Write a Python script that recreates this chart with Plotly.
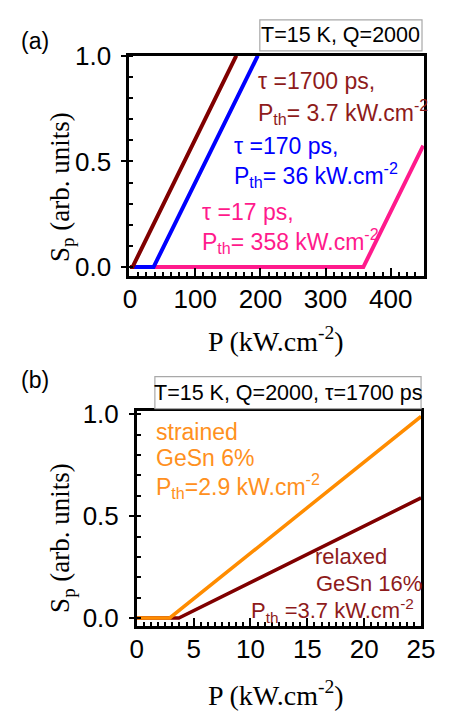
import plotly.graph_objects as go

W, H = 457, 719

# ---- panel (a): S_p vs pump power for three carrier lifetimes ----
p_tau1700 = [0, 3.7, 163]
s_tau1700 = [0, 0, 1.0]
p_tau170 = [0, 36, 196]
s_tau170 = [0, 0, 1.0]
p_tau17 = [0, 358, 450]
s_tau17 = [0, 0, 0.575]

# ---- panel (b): strained vs relaxed GeSn at tau = 1700 ps ----
p_strained = [0, 2.9, 25]
s_strained = [0, 0, 0.99]
p_relaxed = [0, 3.7, 25]
s_relaxed = [0, 0, 0.59]

DARKRED = "#800000"
DARKRED_TXT = "#8E1B1B"
BLUE = "#0000FF"
PINK = "#FF1A8C"
ORANGE = "#FF8C00"
ORANGE_TXT = "#FF9020"

SANS = "Liberation Sans"
SERIF = "Liberation Serif"


def px(x):
    return x / W


def py(y):
    return 1 - y / H


fig = go.Figure()

# panel (a) traces
fig.add_trace(go.Scatter(x=p_tau17, y=s_tau17, mode="lines",
                         line=dict(color=PINK, width=4), xaxis="x", yaxis="y"))
fig.add_trace(go.Scatter(x=p_tau170, y=s_tau170, mode="lines",
                         line=dict(color=BLUE, width=4), xaxis="x", yaxis="y"))
fig.add_trace(go.Scatter(x=p_tau1700, y=s_tau1700, mode="lines",
                         line=dict(color=DARKRED, width=4), xaxis="x", yaxis="y"))

# panel (b) traces
fig.add_trace(go.Scatter(x=p_relaxed, y=s_relaxed, mode="lines",
                         line=dict(color=DARKRED, width=3.5), xaxis="x2", yaxis="y2"))
fig.add_trace(go.Scatter(x=p_strained, y=s_strained, mode="lines",
                         line=dict(color=ORANGE, width=3.5), xaxis="x2", yaxis="y2"))

dom_xa = [px(128), px(437)]
dom_ya = [py(269), py(42)]
dom_xb = [px(136), px(434)]
dom_yb = [py(630), py(408)]

range_xa = [-1.5, 451]
range_ya = [-0.041, 1.0]
range_xb = [0, 25]
range_yb = [-0.038, 1.019]

tickfont = dict(family=SANS, size=26, color="black")


def xaxis_style(domain, rng, dtick, minor_dtick, anchor):
    return dict(domain=domain, range=rng, anchor=anchor, showgrid=False, zeroline=False,
                showline=True, mirror=True, linecolor="black", linewidth=2.5,
                ticks="inside", ticklen=8, tickwidth=2, tickcolor="black", dtick=dtick,
                tick0=0, tickfont=tickfont, ticklabelstandoff=-2,
                minor=dict(ticks="inside", ticklen=4, tickwidth=1.5, tickcolor="black",
                           dtick=minor_dtick, tick0=0, showgrid=False))


def yaxis_style(domain, rng, anchor):
    return dict(domain=domain, range=rng, anchor=anchor, showgrid=False, zeroline=False,
                showline=True, mirror=True, linecolor="black", linewidth=2.5,
                ticks="outside", ticklen=5, tickwidth=2, tickcolor="black", dtick=0.5,
                tick0=0, tickformat=".1f", tickfont=tickfont, ticklabelstandoff=5,
                minor=dict(ticks="inside", ticklen=4, tickwidth=1.5, tickcolor="black",
                           dtick=0.1, tick0=0, showgrid=False))


def inner_ticks(domain, rng, anchor, over, side, dtick, ticklen):
    return dict(domain=domain, range=rng, anchor=anchor, overlaying=over, side=side,
                showgrid=False, zeroline=False, showline=False, showticklabels=False,
                ticks="inside", ticklen=ticklen, tickwidth=2, tickcolor="black",
                dtick=dtick, tick0=0)


fig.update_layout(
    width=W, height=H, margin=dict(l=0, r=0, t=0, b=0),
    paper_bgcolor="white", plot_bgcolor="white", showlegend=False,
    xaxis=xaxis_style(dom_xa, range_xa, 100, 12.5, "y"),
    yaxis=yaxis_style(dom_ya, range_ya, "x"),
    xaxis2=xaxis_style(dom_xb, range_xb, 5, 0.625, "y2"),
    yaxis2=yaxis_style(dom_yb, range_yb, "x2"),
    yaxis3=inner_ticks(dom_ya, range_ya, "x", "y", "left", 0.5, 8),
    yaxis4=inner_ticks(dom_ya, range_ya, "x", "y", "right", 0.1, 5),
    yaxis5=inner_ticks(dom_yb, range_yb, "x2", "y2", "left", 0.5, 8),
    yaxis6=inner_ticks(dom_yb, range_yb, "x2", "y2", "right", 0.1, 5),
)

annotations = []


def text(x, y, s, color="black", size=23, family=SANS, xanchor="left", angle=0):
    annotations.append(dict(x=px(x), y=py(y), xref="paper", yref="paper", text=s,
                            showarrow=False, xanchor=xanchor, yanchor="middle",
                            textangle=angle, borderpad=0,
                            font=dict(family=family, size=size, color=color)))


# panel letters
text(14, 27, "(a)", size=23)
text(14, 377, "(b)", size=23)

# condition boxes
fig.add_shape(type="rect", xref="paper", yref="paper",
              x0=px(265), x1=px(435), y0=py(37), y1=py(5),
              line=dict(color="#A8A8A8", width=1.2), fillcolor="white")
fig.add_shape(type="rect", xref="paper", yref="paper",
              x0=px(155), x1=px(434), y0=py(406), y1=py(373),
              line=dict(color="#A8A8A8", width=1.2), fillcolor="white")
text(350, 21, "T=15 K, Q=2000", size=21.5, xanchor="center")
text(294.5, 390, "T=15 K, Q=2000, \u03c4=1700 ps", size=21.5, xanchor="center")

# panel (a) labels
text(262, 68, "\u03c4 =1700 ps,", color=DARKRED_TXT)
text(262, 100, "P<sub>th</sub>= 3.7 kW.cm<sup>-2</sup>", color=DARKRED_TXT)
text(237, 135, "\u03c4 =170 ps,", color=BLUE)
text(237, 165, "P<sub>th</sub>= 36 kW.cm<sup>-2</sup>", color=BLUE)
text(203, 203, "\u03c4 =17 ps,", color=PINK)
text(203, 233, "P<sub>th</sub>= 358 kW.cm<sup>-2</sup>", color=PINK)

# panel (b) labels
text(155, 430, "strained", color=ORANGE_TXT)
text(155, 457, "GeSn 6%", color=ORANGE_TXT)
text(155, 486, "P<sub>th</sub>=2.9 kW.cm<sup>-2</sup>", color=ORANGE_TXT)
text(322, 559, "relaxed", color=DARKRED_TXT, size=22)
text(323, 586, "GeSn 16%", color=DARKRED_TXT, size=22)
text(428, 614, "P<sub>th</sub> =3.7 kW.cm<sup>-2</sup>", color=DARKRED_TXT, size=22,
     xanchor="right")

# axis titles
ytitle = "S<sub>p</sub> (arb. units)"
xtitle = "P (kW.cm<sup>-2</sup>)"
text(57, 177, ytitle, size=27, family=SERIF, xanchor="center", angle=-90)
text(57, 539, ytitle, size=27, family=SERIF, xanchor="center", angle=-90)
text(282, 335, xtitle, size=28, family=SERIF, xanchor="center")
text(282, 700, xtitle, size=28, family=SERIF, xanchor="center")

fig.update_layout(annotations=annotations)

fig.write_html("out.html")
